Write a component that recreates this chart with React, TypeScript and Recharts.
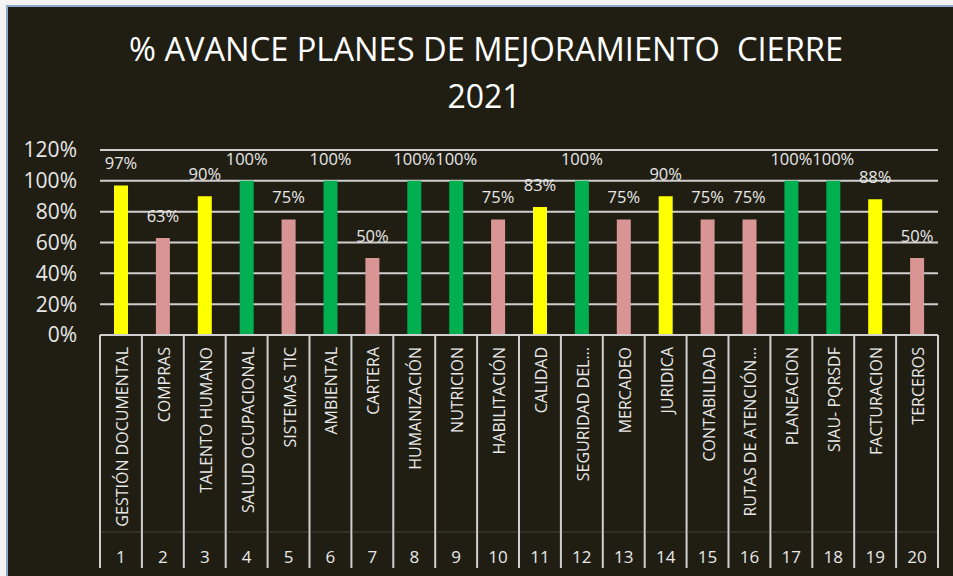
import { BarChart, Bar, XAxis, YAxis, CartesianGrid, Cell, LabelList } from 'recharts';

const areas = [
  'GESTIÓN DOCUMENTAL', 'COMPRAS', 'TALENTO HUMANO', 'SALUD OCUPACIONAL', 'SISTEMAS TIC',
  'AMBIENTAL', 'CARTERA', 'HUMANIZACIÓN', 'NUTRICION', 'HABILITACIÓN',
  'CALIDAD', 'SEGURIDAD DEL...', 'MERCADEO', 'JURIDICA', 'CONTABILIDAD',
  'RUTAS DE ATENCIÓN...', 'PLANEACION', 'SIAU- PQRSDF', 'FACTURACION', 'TERCEROS',
];
const avance = [97, 63, 90, 100, 75, 100, 50, 100, 100, 75, 83, 100, 75, 90, 75, 75, 100, 100, 88, 50];
const yTicks = [0, 20, 40, 60, 80, 100, 120];

const data = areas.map((name, i) => ({ name, num: i + 1, avance: avance[i] }));

const FONT = '"Open Sans", sans-serif';
const TEXT = '#e8e8e8';
const LINE = '#cfcfcf';

// plot geometry
const W = 953;
const H = 576;
const PLOT_LEFT = 100;
const PLOT_RIGHT = 938;
const AXIS_Y = 335;
const AXIS_BOTTOM = 568;
const BAND = (PLOT_RIGHT - PLOT_LEFT) / areas.length;

function barColor(v: number) {
  if (v >= 100) return '#00b050';
  if (v >= 80) return '#ffff00';
  return '#d99594';
}

function CategoryTick(props: any) {
  const { x, index } = props;
  const d = data[index];
  if (!d) return null;
  const left = x - BAND / 2;
  const right = x + BAND / 2;
  return (
    <g>
      <line x1={left} x2={left} y1={AXIS_Y} y2={AXIS_BOTTOM} stroke={LINE} strokeWidth={2} />
      {index === data.length - 1 && (
        <line x1={right} x2={right} y1={AXIS_Y} y2={AXIS_BOTTOM} stroke={LINE} strokeWidth={2} />
      )}
      <line x1={left + 1} x2={right - 1} y1={532} y2={532} stroke="#47443a" strokeWidth={1} />
      <text
        transform={`translate(${x + 7},347) rotate(-90)`}
        textAnchor="end"
        fill={TEXT}
        fontSize={16}
        fontFamily={FONT}
      >
        {d.name}
      </text>
      <text x={x} y={563} textAnchor="middle" fill={TEXT} fontSize={17} fontFamily={FONT}>
        {d.num}
      </text>
    </g>
  );
}

export default function App() {
  return (
    <div style={{ position: 'absolute', left: 0, top: 0, width: W, height: H, background: '#f3f3f3', overflow: 'hidden' }}>
      <div
        style={{
          position: 'absolute',
          left: 6,
          top: 5,
          width: W - 6,
          height: H - 5,
          boxSizing: 'border-box',
          borderTop: '2px solid #8ea8cc',
          borderLeft: '2px solid #8ea8cc',
          background: '#201e13',
        }}
      />
      <svg width={W} height={H} style={{ position: 'absolute', left: 0, top: 0 }}>
        <text
          x={486}
          y={61}
          textAnchor="middle"
          fill="#ffffff"
          fontSize={32}
          fontFamily={FONT}
          textLength={714}
          lengthAdjust="spacingAndGlyphs"
          style={{ whiteSpace: 'pre' }}
        >
          % AVANCE PLANES DE MEJORAMIENTO  CIERRE
        </text>
        <text x={484} y={108} textAnchor="middle" fill="#ffffff" fontSize={32} fontFamily={FONT}>
          2021
        </text>
      </svg>
      <div style={{ position: 'absolute', left: 0, top: 0 }}>
        <BarChart width={W} height={H} data={data} margin={{ top: 150, right: W - PLOT_RIGHT, bottom: 8, left: 0 }}>
          <CartesianGrid vertical={false} stroke={LINE} strokeWidth={2} />
          <XAxis
            dataKey="name"
            height={AXIS_BOTTOM - AXIS_Y}
            interval={0}
            axisLine={{ stroke: LINE, strokeWidth: 2 }}
            tickLine={false}
            tick={<CategoryTick />}
          />
          <YAxis
            width={PLOT_LEFT}
            domain={[0, 120]}
            ticks={yTicks}
            interval={0}
            axisLine={false}
            tickLine={false}
            tickSize={6}
            tickMargin={17}
            tickFormatter={(v: number) => `${v}%`}
            tick={{ fill: TEXT, fontSize: 21, fontFamily: FONT }}
          />
          <Bar dataKey="avance" barSize={14} isAnimationActive={false}>
            {data.map((d, i) => (
              <Cell key={i} fill={barColor(d.avance)} />
            ))}
            <LabelList
              dataKey="avance"
              position="top"
              offset={16}
              fill={TEXT}
              fontSize={16.5}
              fontFamily={FONT}
              formatter={(v: any) => `${v}%`}
            />
          </Bar>
        </BarChart>
      </div>
    </div>
  );
}
